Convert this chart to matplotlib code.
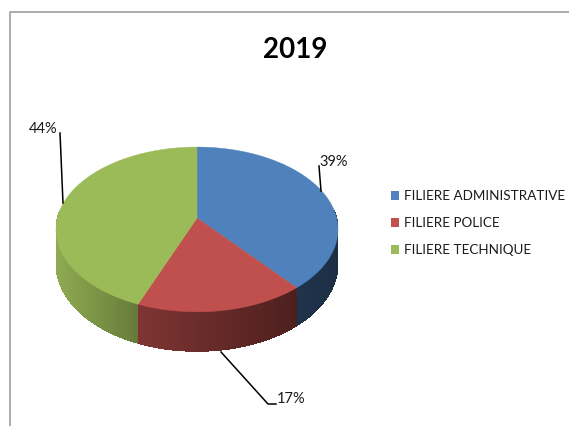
#!/usr/bin/env python3
"""Tilted 3D-look pie, 2019 split per filiere."""
import numpy as np
import matplotlib
matplotlib.use("Agg")
import matplotlib.pyplot as plt
from matplotlib.patches import Patch, Polygon

title = "2019"
categories = ["FILIERE ADMINISTRATIVE", "FILIERE POLICE", "FILIERE TECHNIQUE"]
shares = [39, 17, 44]
pct_labels = ["39%", "17%", "44%"]
colors = ["#4f81bd", "#c0504d", "#9bbb59"]

plt.rcParams["font.family"] = ["Lato", "DejaVu Sans"]

# pie geometry in pixels, persp makes the near edge bigger
CX, APEX_Y, RX = 197.0, 218.0, 139.6
A, C = -50.5, 0.139
DEPTH = 34.0


def rim(theta):
    # theta clockwise from 12 o'clock, radians
    u, v = np.sin(theta), np.cos(theta)
    w = 1 + C * v
    return CX + RX * u / w, (A * v + APEX_Y) / w, DEPTH / w


def shade(x):
    # side wall gets darker going right
    return np.interp(x, [55, 136, 296, 338], [0.92, 0.66, 0.40, 0.36])


fig = plt.figure(figsize=(5.69, 4.26), dpi=100)
ax = fig.add_axes([0, 0, 1, 1])
ax.set_xlim(0, 569)
ax.set_ylim(426, 0)
ax.axis("off")

# frame of the pasted chart, open on the right and at the bottom
ax.plot([10.5, 10.5, 569], [426, 12, 12], color="#a6a6a6", lw=1.3)

edges = 2 * np.pi * np.cumsum([0] + shares) / sum(shares)

# side wall first
for i, col in enumerate(colors):
    ts = np.linspace(edges[i], edges[i + 1], 200)
    for t0, t1 in zip(ts[:-1], ts[1:]):
        if np.cos((t0 + t1) / 2 - np.pi) < -0.09:   # back half is hidden
            continue
        x0, y0, d0 = rim(t0)
        x1, y1, d1 = rim(t1)
        base = np.array(matplotlib.colors.to_rgb(col))
        ax.add_patch(Polygon([(x0, y0), (x1, y1), (x1, y1 + d1), (x0, y0 + d0)],
                             fc=base * shade((x0 + x1) / 2), ec="none", aa=False))

# top face
for i, col in enumerate(colors):
    ts = np.linspace(edges[i], edges[i + 1], 200)
    xs, ys, _ = rim(ts)
    pts = [(CX, APEX_Y)] + list(zip(xs, ys))
    ax.add_patch(Polygon(pts, fc=col, ec=col, lw=0.3))

# leaders and percent labels
ax.plot([319, 321], [166, 191], color="black", lw=1.1)
ax.plot([221, 268, 276], [352, 404, 404], color="black", lw=1.1)
ax.plot([60, 63], [133, 203], color="black", lw=1.1)
ax.text(334, 161.5, pct_labels[0], fontsize=10.5, ha="center", va="center", color="#1a1a1a")
ax.text(291, 399, pct_labels[1], fontsize=10.5, ha="center", va="center", color="#1a1a1a")
ax.text(43, 129, pct_labels[2], fontsize=10.5, ha="center", va="center", color="#1a1a1a")

ax.text(295, 50, title, fontsize=20, fontweight="bold", ha="center", va="center")

handles = [Patch(fc=c, ec="none") for c in colors]
ax.legend(handles, categories, loc="upper left", bbox_to_anchor=(391 / 569, 1 - 190.5 / 426),
          frameon=False, fontsize=9.7, handlelength=0.6, handleheight=0.6,
          handletextpad=0.36, labelspacing=1.1, borderpad=0, borderaxespad=0,
          labelcolor="#1a1a1a")

fig.savefig("out.png", dpi=100)
